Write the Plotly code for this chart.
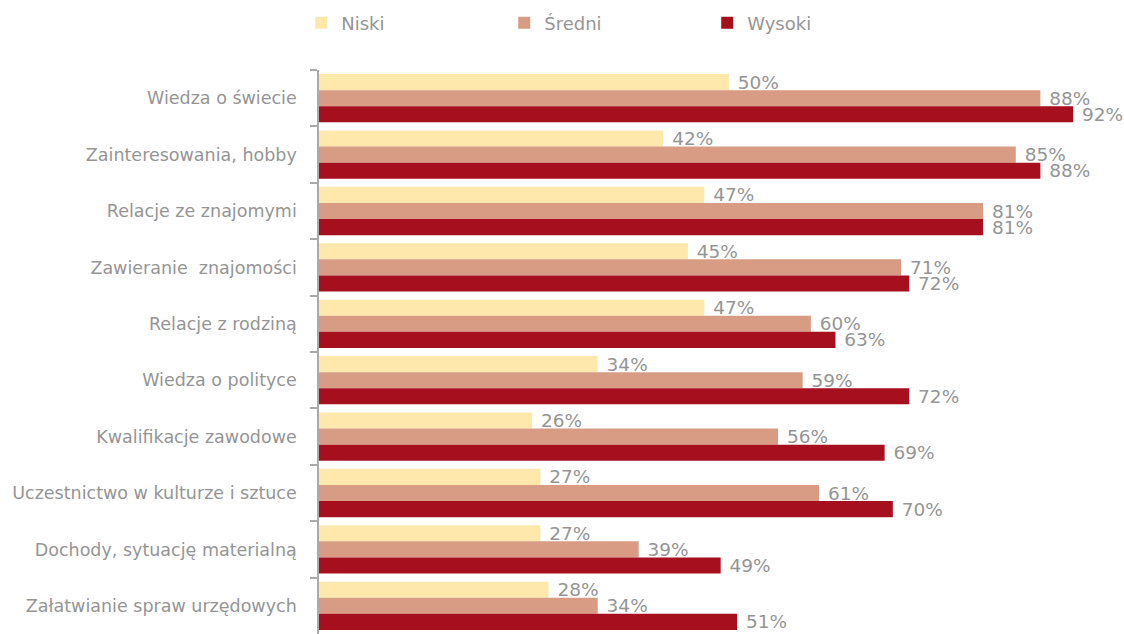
import plotly.graph_objects as go

categories = [
    "Wiedza o świecie",
    "Zainteresowania, hobby",
    "Relacje ze znajomymi",
    "Zawieranie  znajomości",
    "Relacje z rodziną",
    "Wiedza o polityce",
    "Kwalifikacje zawodowe",
    "Uczestnictwo w kulturze i sztuce",
    "Dochody, sytuację materialną",
    "Załatwianie spraw urzędowych",
]
niski = [50, 42, 47, 45, 47, 34, 26, 27, 27, 28]
sredni = [88, 85, 81, 71, 60, 59, 56, 61, 39, 34]
wysoki = [92, 88, 81, 72, 63, 72, 69, 70, 49, 51]

series = [
    ("Niski", niski, "#FEE8AC"),
    ("Średni", sredni, "#D89B83"),
    ("Wysoki", wysoki, "#A60F1E"),
]

FONT = "DejaVu Sans"
GRAY = "#959595"

fig = go.Figure()
for name, vals, color in series:
    fig.add_trace(go.Bar(
        name=name,
        y=categories,
        x=vals,
        orientation="h",
        marker=dict(color=color, line=dict(width=0)),
        text=[f" {v}%" for v in vals],
        textposition="outside",
        constraintext="none",
        cliponaxis=False,
        textfont=dict(family=FONT, size=18.5, color=GRAY),
    ))

fig.update_layout(
    width=1124, height=634,
    margin=dict(l=319, r=0, t=70, b=0, autoexpand=False),
    paper_bgcolor="white", plot_bgcolor="white",
    barmode="group",
    bargap=0.143, bargroupgap=0,
    font=dict(family=FONT, color=GRAY),
    legend=dict(
        orientation="h",
        xref="container", yref="container",
        x=0.268, y=0.993, xanchor="left", yanchor="top",
        entrywidth=158,
        font=dict(family=FONT, size=18, color=GRAY),
        traceorder="normal",
    ),
    xaxis=dict(range=[0, 98.2], visible=False, showgrid=False, zeroline=False),
    yaxis=dict(
        autorange="reversed",
        showline=True, linecolor="#aaaaaa", linewidth=1.5,
        ticks="outside", ticklen=7, tickcolor="#aaaaaa", tickwidth=1.5,
        tickson="boundaries",
        ticklabelstandoff=17,
        tickfont=dict(family=FONT, size=17.5, color=GRAY),
        showgrid=False,
    ),
)

fig.write_html("out.html", config={"displayModeBar": False},
               post_script="document.body.style.margin='0';")
